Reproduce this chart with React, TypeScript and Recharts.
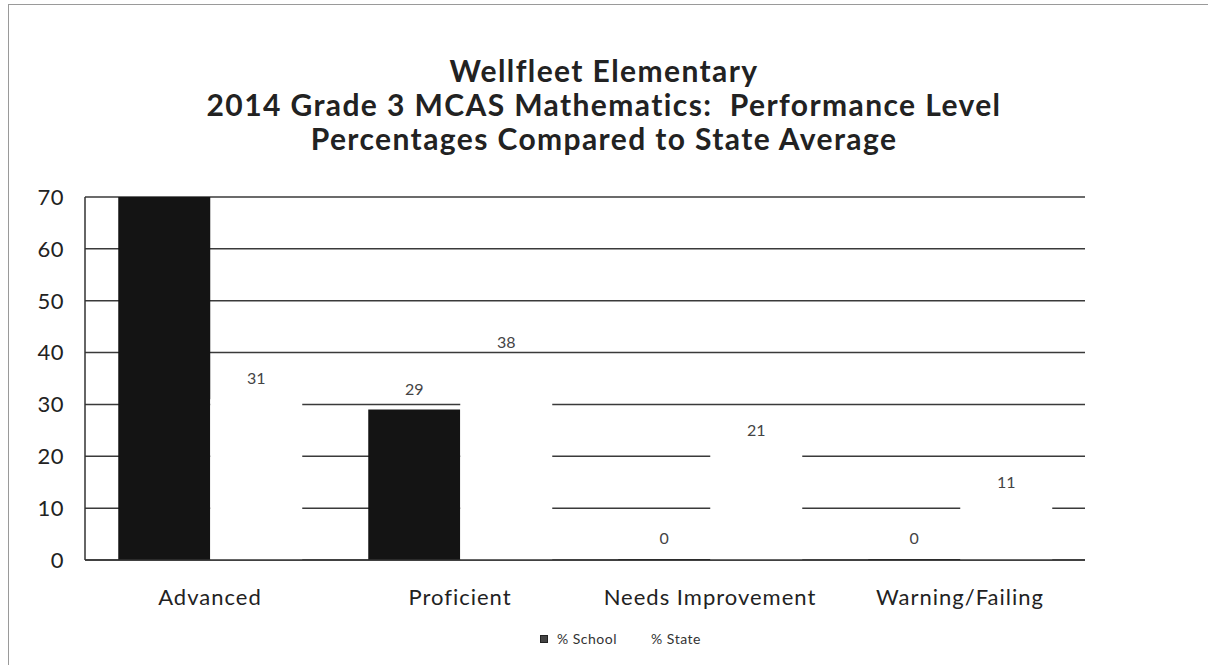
import { BarChart, Bar, XAxis, YAxis, CartesianGrid, LabelList } from 'recharts';

const categories = ['Advanced', 'Proficient', 'Needs Improvement', 'Warning/Failing'];
const schoolPct = [71, 29, 0, 0];
const statePct = [31, 38, 21, 11];
const yTicks = [0, 10, 20, 30, 40, 50, 60, 70];

const titleLines = [
  'Wellfleet Elementary',
  '2014 Grade 3 MCAS Mathematics:  Performance Level',
  'Percentages Compared to State Average',
];

const data = categories.map((name, i) => ({
  name,
  school: schoolPct[i],
  state: statePct[i],
}));

const FONT = 'Lato, "Open Sans", sans-serif';

// values above the axis max are clipped, so their labels are hidden too
const hideClipped = (v: any) => (Number(v) > 70 ? '' : v);

const labelStyle = { fill: '#444', fontSize: 16, fontFamily: FONT };

const App = () => {
  return (
    <div
      style={{
        position: 'absolute',
        left: 0,
        top: 0,
        width: 1208,
        height: 668,
        background: '#fff',
        fontFamily: FONT,
        overflow: 'hidden',
      }}
    >
      <div
        style={{
          position: 'absolute',
          left: 8,
          top: 4,
          width: 1200,
          height: 660,
          borderTop: '1px solid #9a9a9a',
          borderLeft: '1px solid #9a9a9a',
        }}
      />
      <div
        style={{
          position: 'absolute',
          top: 53,
          left: 0,
          width: 1208,
          textAlign: 'center',
          fontWeight: 700,
          fontSize: 30,
          letterSpacing: 1.4,
          lineHeight: '34px',
          color: '#222',
        }}
      >
        {titleLines.map((t) => (
          <div key={t} style={{ whiteSpace: 'pre' }}>{t}</div>
        ))}
      </div>

      <div style={{ position: 'absolute', left: 0, top: 0 }}>
        <BarChart
          width={1208}
          height={668}
          data={data}
          margin={{ top: 197, right: 123, bottom: 48, left: 0 }}
          barCategoryGap="13.3%"
          barGap={0}
        >
          <CartesianGrid vertical={false} stroke="#3a3a3a" strokeWidth={1.5} />
          <XAxis
            dataKey="name"
            height={60}
            tickLine={false}
            tickMargin={23}
            axisLine={{ stroke: '#333', strokeWidth: 1.5 }}
            tick={{ fill: '#222', fontSize: 22, fontFamily: FONT, letterSpacing: 1 }}
            interval={0}
          />
          <YAxis
            width={85}
            domain={[0, 70]}
            ticks={yTicks}
            allowDataOverflow
            interval={0}
            tickLine={false}
            tickMargin={15}
            axisLine={{ stroke: '#333', strokeWidth: 1.5 }}
            tick={{ fill: '#222', fontSize: 22, fontFamily: FONT, letterSpacing: 0.5 }}
          />
          <Bar dataKey="school" name="% School" fill="#141414" minPointSize={1} isAnimationActive={false}>
            <LabelList
              dataKey="school"
              position="top"
              offset={15}
              formatter={hideClipped}
              style={labelStyle}
            />
          </Bar>
          <Bar dataKey="state" name="% State" fill="#ffffff" minPointSize={1} isAnimationActive={false}>
            <LabelList
              dataKey="state"
              position="top"
              offset={15}
              formatter={hideClipped}
              style={labelStyle}
            />
          </Bar>
        </BarChart>
      </div>

      <div
        style={{
          position: 'absolute',
          top: 630,
          left: 540,
          display: 'flex',
          alignItems: 'center',
          gap: 19,
          fontSize: 14,
          letterSpacing: 0.5,
          color: '#333',
        }}
      >
        <span style={{ display: 'flex', alignItems: 'center', gap: 9 }}>
          <span style={{ width: 6, height: 6, background: '#444', border: '1px solid #222', display: 'inline-block' }} />
          % School
        </span>
        <span style={{ display: 'flex', alignItems: 'center', gap: 9 }}>
          <span style={{ width: 6, height: 6, background: '#fff', display: 'inline-block' }} />
          % State
        </span>
      </div>
    </div>
  );
};

export default App;
